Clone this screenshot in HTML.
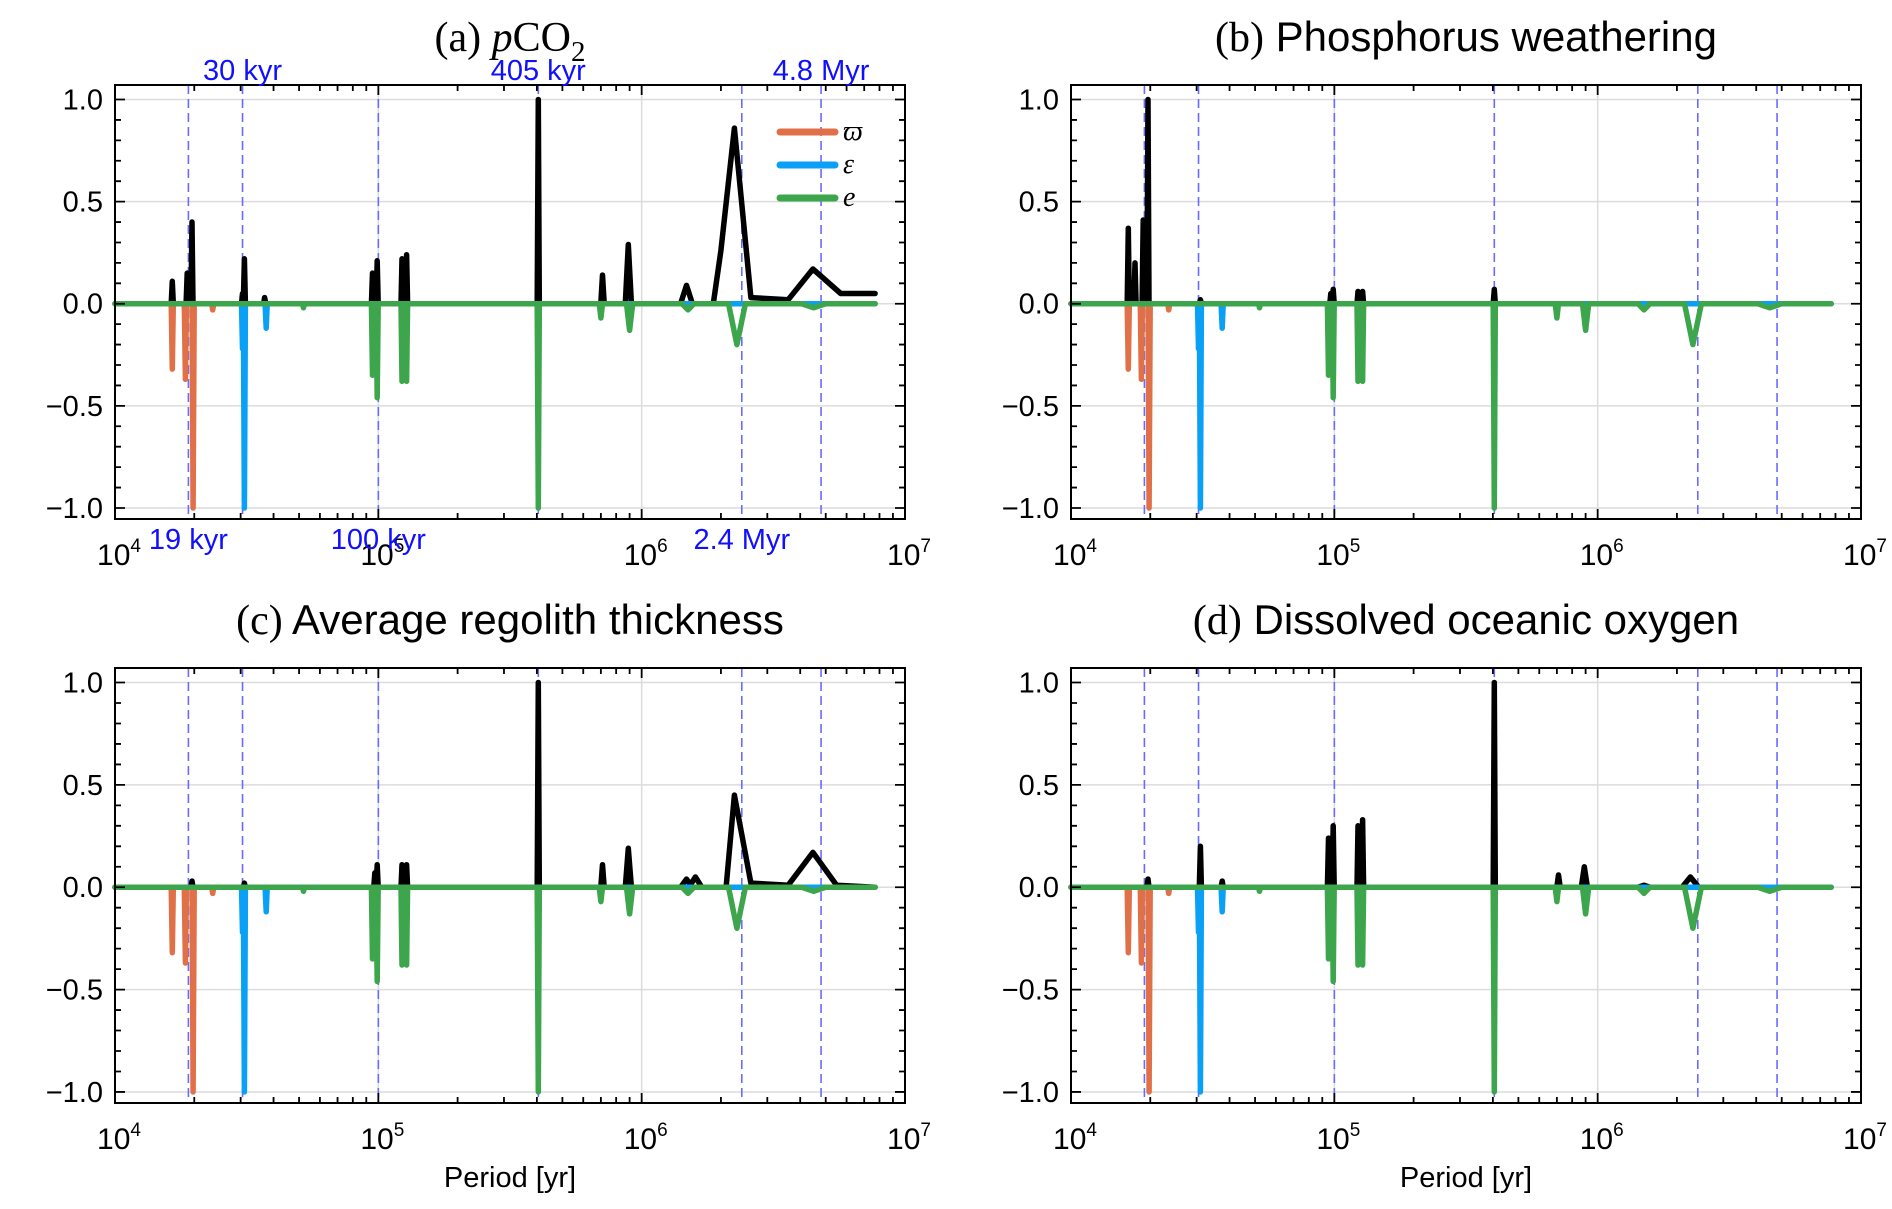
<!DOCTYPE html>
<html><head><meta charset="utf-8">
<style>
html,body{margin:0;padding:0;background:#fff;}
svg{display:block;font-family:"Liberation Sans",sans-serif;}
</style></head>
<body>
<svg id="fig" width="1892" height="1209" viewBox="0 0 1892 1209" xmlns="http://www.w3.org/2000/svg"></svg>
<script>
// Shared series (identical in all panels)
const varpiPeriods = [16500, 18500, 19800, 23500];
const varpiValues  = [-0.32, -0.37, -1.0, -0.03];
const epsPeriods = [30500, 31000, 37500];
const epsValues  = [-0.22, -1.0, -0.12];
const ePeriods = [52000, 95000, 99000, 123000, 128000, 405000, 700000, 900000, 1500000, 2300000, 4500000];
const eValues  = [-0.02, -0.35, -0.46, -0.38, -0.38, -1.0, -0.07, -0.13, -0.03, -0.2, -0.02];
// Black series per panel
const aPeriods = [16500, 18800, 19600, 30500, 31000, 37000, 95000, 99000, 123000, 128000, 405000, 710000, 890000, 1480000, 2000000, 2250000, 2600000, 3600000, 4470000, 5700000, 7700000];
const aValues  = [0.11, 0.15, 0.40, 0.05, 0.22, 0.03, 0.15, 0.21, 0.22, 0.24, 1.0, 0.14, 0.29, 0.09, 0.26, 0.86, 0.03, 0.02, 0.17, 0.05, 0.05];
const bPeriods = [16500, 17500, 18800, 19600, 31000, 97000, 99000, 123000, 128000, 405000];
const bValues  = [0.37, 0.2, 0.41, 1.0, 0.02, 0.05, 0.07, 0.06, 0.06, 0.07];
const cPeriods = [19600, 31000, 97000, 99000, 123000, 128000, 405000, 710000, 890000, 1480000, 1600000, 2250000, 2600000, 3600000, 4470000, 5500000, 7700000];
const cValues  = [0.03, 0.02, 0.07, 0.11, 0.11, 0.11, 1.0, 0.11, 0.19, 0.04, 0.05, 0.45, 0.02, 0.01, 0.17, 0.01, 0.0];
const dPeriods = [19600, 31000, 37500, 95000, 99000, 123000, 128000, 405000, 710000, 890000, 1500000, 2250000];
const dValues  = [0.04, 0.2, 0.03, 0.24, 0.3, 0.3, 0.33, 1.0, 0.06, 0.1, 0.01, 0.05];
const yTicks = [1.0, 0.5, 0.0, -0.5, -1.0];
const yTickLabels = ["1.0", "0.5", "0.0", "\u22120.5", "\u22121.0"];
const xDecades = [4, 5, 6, 7];
const markPeriods = [19000, 30500, 100000, 405000, 2400000, 4800000];
const markLabels = ["19 kyr", "30 kyr", "100 kyr", "405 kyr", "2.4 Myr", "4.8 Myr"];
const markTop = [false, true, false, true, false, true];

const NS = "http://www.w3.org/2000/svg";
const svg = document.getElementById("fig");
function mk(tag, attrs, parent){const e=document.createElementNS(NS,tag);for(const k in attrs)e.setAttribute(k,attrs[k]);(parent||svg).appendChild(e);return e;}

const panels = [
 {id:"a", L:115, R:905, T:85, B:519, periods:aPeriods, values:aValues, legend:true, marks:true},
 {id:"b", L:1071, R:1861, T:85, B:519, periods:bPeriods, values:bValues, title:"Phosphorus weathering"},
 {id:"c", L:115, R:905, T:668, B:1103, periods:cPeriods, values:cValues, title:"Average regolith thickness", xlabel:true},
 {id:"d", L:1071, R:1861, T:668, B:1103, periods:dPeriods, values:dValues, title:"Dissolved oceanic oxygen", xlabel:true}
];
const YMAX=1.071, YMIN=-1.054;
const LEND=Math.log10(7700000), LCONT=Math.log10(1900000);

function buildPath(periods, values, xs, ys, allowCont){
  const pts=[];
  const idx=periods.map((p,i)=>i).sort((i,j)=>periods[i]-periods[j]);
  pts.push([4, 0]);
  let prevCont=false;
  idx.forEach((i,k)=>{
    const lp=Math.log10(periods[i]);
    const cont=allowCont && lp>=LCONT;
    const hw=0.004+0.05*Math.max(0,lp-5.8);
    const nextCont=allowCont && k+1<idx.length && Math.log10(periods[idx[k+1]])>=LCONT;
    if(!(cont&&prevCont)) pts.push([lp-hw,0]);
    pts.push([lp,values[i]]);
    if(!(cont&&nextCont) && lp<LEND-0.01) pts.push([lp+hw,0]);
    prevCont=cont;
  });
  if(pts[pts.length-1][0]<LEND-0.01) pts.push([LEND,0]);
  return pts.map((p,k)=>(k?"L":"M")+xs(p[0]).toFixed(1)+","+ys(p[1]).toFixed(1)).join(" ");
}

panels.forEach(P=>{
  const g=mk("g",{});
  
  
  const xs=lp=>P.L+(lp-4)/3*(P.R-P.L);
  const ys=v=>P.T+(YMAX-v)/(YMAX-YMIN)*(P.B-P.T);
  yTicks.forEach(v=>{const l=mk("line",{x1:P.L,x2:P.R,y1:ys(v),y2:ys(v),stroke:"#dcdcdc","stroke-width":1.5},g);});
  xDecades.forEach(d=>{const l=mk("line",{x1:xs(d),x2:xs(d),y1:P.T,y2:P.B,stroke:"#dcdcdc","stroke-width":1.5},g);});
  markPeriods.forEach(p=>{const l=mk("line",{x1:xs(Math.log10(p)),x2:xs(Math.log10(p)),y1:P.T,y2:P.B,stroke:"#6a6aff","stroke-width":1.6,"stroke-dasharray":"9,5"},g);});
  const series=[
    [P.periods,P.values,"#000000","black-total",true],
    [varpiPeriods,varpiValues,"#e07048","series-varpi",false],
    [epsPeriods,epsValues,"#0aa0f5","series-epsilon",false],
    [ePeriods,eValues,"#3da64d","series-e",false]
  ];
  series.forEach(s=>{
    const pa=mk("path",{d:buildPath(s[0],s[1],xs,ys,s[4]),fill:"none",stroke:s[2],"stroke-width":5.5,"stroke-linejoin":"round","stroke-linecap":"round"},g);
    
    
  });
  let tk="";
  for(let d=4;d<7;d++){for(let m=1;m<10;m++){const x=xs(d+Math.log10(m));const len=m===1?10:6;tk+=`M${x},${P.B}v${-len}M${x},${P.T}v${len}`;}}
  for(let v=-1;v<=1.001;v+=0.1){const y=ys(v);const maj=Math.abs(v*2-Math.round(v*2))<1e-6;const len=maj?10:6;tk+=`M${P.L},${y}h${len}M${P.R},${y}h${-len}`;}
  const t=mk("path",{d:tk,stroke:"#000","stroke-width":1.8,fill:"none"},g);
  
  const fr=mk("rect",{x:P.L,y:P.T,width:P.R-P.L,height:P.B-P.T,fill:"none",stroke:"#000","stroke-width":2},g);
  
  yTicks.forEach((v,i)=>{const tx=mk("text",{x:P.L-12,y:ys(v)+10,"text-anchor":"end","font-size":29},g);tx.textContent=yTickLabels[i];});
  xDecades.forEach(d=>{const tx=mk("text",{x:xs(d)+4,y:P.B+46,"text-anchor":"middle","font-size":30},g);tx.innerHTML=`10<tspan dy="-13" font-size="19">${d}</tspan>`;});
  const cx=(P.L+P.R)/2, ty=P.T-34;
  const tt=mk("text",{x:cx,y:ty,"text-anchor":"middle","font-size":42},g);
  
  if(P.id==="a"){
    tt.innerHTML=`<tspan font-family="Liberation Serif">(a) <tspan font-style="italic">p</tspan>CO<tspan dy="10" font-size="29">2</tspan></tspan>`;
  } else {
    tt.innerHTML=`<tspan font-family="Liberation Serif">(${P.id})</tspan> ${P.title}`;
  }
  if(P.xlabel){const xl=mk("text",{x:cx,y:1187,"text-anchor":"middle","font-size":29},g);xl.textContent="Period [yr]";}
  if(P.marks){
    markPeriods.forEach((p,i)=>{const tx=mk("text",{x:xs(Math.log10(p)),y:markTop[i]?P.T-5:P.B+30,"text-anchor":"middle","font-size":29,fill:"#1010ff"},g);tx.textContent=markLabels[i];});
  }
  if(P.legend){
    const lg=[["#e07048","\u03D6"],["#0aa0f5","\u03B5"],["#3da64d","e"]];
    lg.forEach((e,i)=>{const y=132+i*33;
      const l=mk("line",{x1:780,x2:835,y1:y,y2:y,stroke:e[0],"stroke-width":7,"stroke-linecap":"round"},g);
      
      const tx=mk("text",{x:843,y:y+8,"font-size":28,"font-family":"Liberation Serif","font-style":"italic"},g);tx.textContent=e[1];
      });
  }
});
</script>
</body></html>
